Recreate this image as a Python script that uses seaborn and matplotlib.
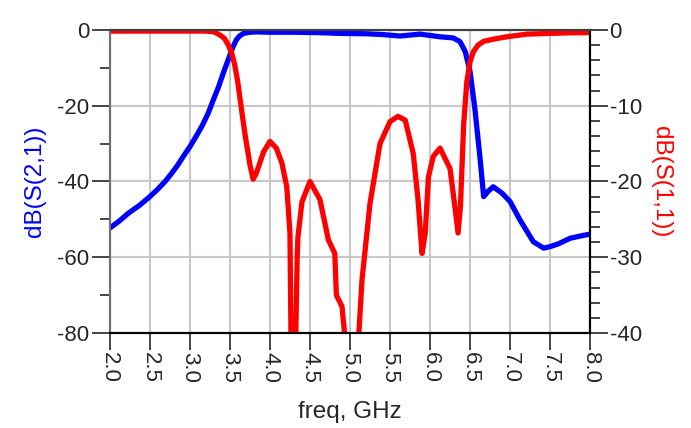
import matplotlib
matplotlib.use("Agg")
import matplotlib.pyplot as plt
import pandas as pd
import seaborn as sns
from matplotlib.ticker import MultipleLocator

# S21 (left axis)
freq_s21 = [2.0, 2.12, 2.23, 2.37, 2.5, 2.6, 2.69, 2.77, 2.85, 2.92, 3.0, 3.08, 3.16, 3.23,
            3.29, 3.36, 3.42, 3.5, 3.54, 3.58, 3.62, 3.67, 3.75, 3.83, 4.0, 4.3, 4.6, 4.875,
            5.2, 5.4, 5.625, 5.875, 6.125, 6.29, 6.375, 6.44, 6.5, 6.56, 6.625, 6.67, 6.73,
            6.79, 6.9, 7.0, 7.125, 7.29, 7.42, 7.5, 7.6, 7.75, 7.9, 8.0]
s21_db = [-52.3, -50.4, -48.4, -46.3, -44.0, -42.0, -40.0, -37.9, -35.6, -33.3, -30.8, -28.0,
          -25.0, -21.9, -18.6, -14.9, -11.2, -6.6, -4.4, -2.6, -1.6, -0.9, -0.6, -0.5, -0.6,
          -0.6, -0.7, -0.9, -1.0, -1.2, -1.6, -1.1, -1.8, -2.1, -3.1, -5.7, -11.0, -20.7,
          -33.9, -44.0, -42.5, -41.4, -43.1, -45.3, -50.2, -55.9, -57.6, -57.2, -56.5, -55.0,
          -54.3, -53.9]

# S11 (right axis), dips below -40 run off the plot
freq_s11 = [2.0, 2.5, 3.0, 3.2, 3.3, 3.375, 3.43, 3.48, 3.52, 3.56, 3.6, 3.625, 3.69, 3.75,
            3.79, 3.83, 3.92, 4.0, 4.08, 4.15, 4.21, 4.25, 4.27, 4.31, 4.34, 4.35, 4.40, 4.5,
            4.625, 4.73, 4.81, 4.83, 4.90, 4.95, 5.02, 5.10, 5.15, 5.25, 5.375, 5.5, 5.60,
            5.69, 5.79, 5.85, 5.90, 5.94, 5.98, 6.04, 6.125, 6.25, 6.31, 6.35, 6.38, 6.42,
            6.46, 6.5, 6.54, 6.6, 6.67, 6.8, 6.96, 7.21, 7.5, 7.75, 8.0]
s11_db = [-0.15, -0.15, -0.15, -0.15, -0.25, -0.66, -1.1, -2.0, -3.0, -4.6, -7.0, -9.0,
          -13.9, -17.8, -19.7, -18.9, -16.1, -14.7, -15.6, -17.6, -20.7, -26.8, -48.0,
          -48.0, -30.0, -27.3, -22.7, -20.0, -22.4, -27.7, -29.5, -35.0, -36.5, -42.0,
          -48.0, -42.0, -33.0, -22.9, -15.0, -12.1, -11.4, -11.9, -16.3, -22.4, -29.5,
          -26.8, -19.4, -16.7, -15.6, -18.3, -23.3, -26.8, -23.3, -12.5, -6.8, -4.2, -2.9,
          -2.0, -1.5, -1.2, -0.9, -0.55, -0.45, -0.38, -0.35]

df21 = pd.DataFrame({'freq': freq_s21, 'db': s21_db})
df11 = pd.DataFrame({'freq': freq_s11, 'db': s11_db})

sns.set_style("white")
plt.rcParams['font.family'] = ['Liberation Sans', 'DejaVu Sans']
plt.rcParams['axes.unicode_minus'] = False

fig = plt.figure(figsize=(6.91, 4.28), dpi=100)
ax = fig.add_axes([0.159, 0.222, 0.695, 0.708])
ax2 = ax.twinx()

sns.lineplot(data=df21, x='freq', y='db', ax=ax, color='#0000ff', linewidth=3.8)
sns.lineplot(data=df11, x='freq', y='db', ax=ax2, color='#ff0000', linewidth=3.8)

ax.set_xlim(2.0, 8.0)
ax.set_ylim(-80, 0)
ax2.set_ylim(-40, 0)

ax.yaxis.set_major_locator(MultipleLocator(20))
ax.yaxis.set_minor_locator(MultipleLocator(10))
ax2.yaxis.set_major_locator(MultipleLocator(10))
ax2.yaxis.set_minor_locator(MultipleLocator(2))
ax.set_xticks([2.0 + 0.5 * i for i in range(13)])
ax.set_xticklabels([f'{2.0 + 0.5 * i:.1f}' for i in range(13)], rotation=-90)

ax.grid(True, which='major', color='#c8c8c8', linewidth=1.5)
ax.set_axisbelow(True)
ax2.grid(False)

ax.tick_params(axis='y', which='major', left=True, length=13, width=1.2, pad=2, labelsize=16)
ax.tick_params(axis='y', which='minor', left=True, length=7, width=1.2)
ax.tick_params(axis='x', which='major', bottom=True, length=12, width=1.2, pad=2, labelsize=16)
ax2.tick_params(axis='y', which='major', right=True, length=13, width=1.2, pad=1, labelsize=16)
ax2.tick_params(axis='y', which='minor', right=True, length=7, width=1.2)

for a in (ax, ax2):
    a.spines['left'].set_color('#707070')
    a.spines['top'].set_color('#404040')
    a.spines['bottom'].set_color('black')
    a.spines['right'].set_color('black')
    for s in a.spines.values():
        s.set_linewidth(1.5)

ax.set_xlabel('freq, GHz', fontsize=17.5, labelpad=13)
ax.set_ylabel('dB(S(2,1))', color='#0000ff', fontsize=17.5, labelpad=8)
ax2.set_ylabel('dB(S(1,1))', color='#ff0000', fontsize=17.5, rotation=-90, labelpad=22)

fig.savefig('out.png', dpi=100)
